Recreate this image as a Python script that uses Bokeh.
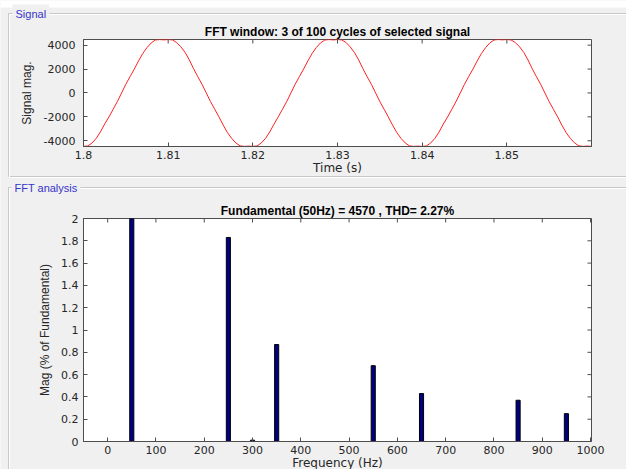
import math
from bokeh.plotting import figure
from bokeh.layouts import column
from bokeh.models import (Range1d, Label, FixedTicker, GridBox,
                          CustomJSTickFormatter, ColumnDataSource)
from bokeh.embed import file_html
from bokeh.resources import INLINE

# ---------------- data ----------------
signal_t0 = 1.7995
signal_dt = 0.0005
signal_values = [
    -4445, -4471, -4430, -4190, -3800, -3260, -2600, -2010, -1370, -720,
    0, 730, 1370, 2000, 2680, 3300, 3800, 4190, 4430, 4468,
    4440, 4470, 4435, 4220, 3860, 3390, 2760, 2030, 1360, 720,
    0, -720, -1360, -2000, -2690, -3310, -3800, -4180, -4425, -4468,
    -4447, -4470, -4432, -4185, -3795, -3255, -2610, -2005, -1365, -725,
    0, 728, 1368, 2003, 2682, 3296, 3805, 4188, 4428, 4466,
    4438, 4469, 4437, 4224, 3855, 3385, 2765, 2035, 1362, 722,
    2, -718, -1358, -2004, -2688, -3306, -3798, -4183, -4427, -4470,
    -4446, -4472, -4431, -4188, -3802, -3262, -2598, -2012, -1372, -718,
    1, 732, 1372, 1998, 2678, 3302, 3798, 4192, 4432, 4470,
    4442, 4471, 4433, 4218, 3862, 3392, 2758, 2028, 1358, 718,
    -2, -722, -1362, -1998, -2692, -3312, -3802, -4178, -4423, -4466,
    -4444, -4470, -4429,
]
signal_time = [signal_t0 + i * signal_dt for i in range(len(signal_values))]

fft_freq = [50, 250, 300, 350, 550, 650, 850, 950]
fft_mag = [100.0, 1.83, 0.012, 0.87, 0.68, 0.43, 0.37, 0.25]

time_ticks = [1.80, 1.81, 1.82, 1.83, 1.84, 1.85]
signal_ticks = [-4000, -2000, 0, 2000, 4000]
freq_ticks = [0, 100, 200, 300, 400, 500, 600, 700, 800, 900, 1000]
mag_ticks = [0, 0.2, 0.4, 0.6, 0.8, 1.0, 1.2, 1.4, 1.6, 1.8, 2.0]

title_signal = "FFT window: 3 of 100 cycles of selected signal"
title_fft = "Fundamental (50Hz) = 4570 , THD= 2.27%"
panel_signal = "Signal"
panel_fft = "FFT analysis"

# ---------------- style ----------------
W, H = 626, 469
BG = "#f0f0f0"
AX = "#4d4d4d"
TXT = "#262626"
PANEL_LINE = "#c8c8c8"
PANEL_TXT = "#3535c8"
TICK_FONT = "DejaVu Sans"
LABEL_FONT = "DejaVu Sans"
NARROW = "'Liberation Sans Narrow', 'Liberation Sans'"
TITLE_FONT = "Liberation Sans"

fmt_code = "return String(parseFloat(tick.toFixed(3)));"


def style_axes(p, xticks, yticks, xlabel, ylabel, ylab_standoff, ytick_standoff):
    p.xgrid.visible = False
    p.ygrid.visible = False
    p.outline_line_color = AX
    for ax, ticks in ((p.xaxis[0], xticks), (p.yaxis[0], yticks)):
        ax.ticker = FixedTicker(ticks=ticks)
        ax.formatter = CustomJSTickFormatter(code=fmt_code)
        ax.major_tick_in = 4
        ax.major_tick_out = 0
        ax.minor_tick_line_color = None
        ax.axis_line_color = AX
        ax.major_tick_line_color = AX
        ax.major_label_text_font = TICK_FONT
        ax.major_label_text_font_size = "11px"
        ax.major_label_text_color = TXT
        ax.axis_label_text_color = TXT
        ax.axis_label_text_font_style = "normal"
    p.xaxis[0].axis_label = xlabel
    p.xaxis[0].axis_label_text_font = LABEL_FONT
    p.xaxis[0].axis_label_text_font_size = "12px"
    p.xaxis[0].major_label_standoff = 4
    p.xaxis[0].axis_label_standoff = -1
    p.yaxis[0].axis_label = ylabel
    p.yaxis[0].axis_label_text_font = NARROW
    p.yaxis[0].axis_label_text_font_size = "12px"
    p.yaxis[0].major_label_standoff = ytick_standoff
    p.yaxis[0].axis_label_standoff = ylab_standoff
    # inward ticks on the top and right edges of the box
    xr, yr = p.x_range, p.y_range
    p.ray(x=[xr.end] * len(yticks), y=yticks, length=4, length_units="screen",
          angle=math.pi, line_color=AX, line_width=1)
    p.ray(x=xticks, y=[yr.end] * len(xticks), length=4, length_units="screen",
          angle=-math.pi / 2, line_color=AX, line_width=1)


def style_title(p, text):
    p.title.text = text
    p.title.align = "center"
    p.title.text_font = TITLE_FONT
    p.title.text_font_size = "12px"
    p.title.text_font_style = "bold"
    p.title.text_color = "#000000"
    try:
        p.title.standoff = 2
    except Exception:
        pass


def panel_label(x, y, text):
    lab = Label(x=x, y=y, text=text, text_font=TITLE_FONT,
                text_font_size="11px", text_color=PANEL_TXT,
                text_baseline="middle", background_fill_color=BG)
    try:
        lab.padding = 3
    except Exception:
        pass
    return lab


# ---------------- background (GUI panels) ----------------
bg = figure(width=W, height=H, x_range=Range1d(0, W), y_range=Range1d(H, 0),
            output_backend="svg", toolbar_location=None,
            x_axis_location=None, y_axis_location=None,
            min_border=0, background_fill_color=BG, border_fill_color=BG,
            outline_line_color=None)
bg.xgrid.visible = False
bg.ygrid.visible = False
bg.quad(left=[0], right=[W], top=[0], bottom=[7], fill_color="white", line_color=None)
# Signal group box
bg.multi_line(xs=[[W + 5, 8, 8, W + 5], [W + 5, 9, 9, W + 5]],
              ys=[[13, 13, 176, 176], [14, 14, 177, 177]],
              line_color=[PANEL_LINE, "white"], line_width=1)
# FFT analysis group box
bg.multi_line(xs=[[W + 5, 8, 8], [W + 5, 9, 9]],
              ys=[[187, 187, H + 5], [188, 188, H + 5]],
              line_color=[PANEL_LINE, "white"], line_width=1)
bg.add_layout(panel_label(12, 13, panel_signal))
bg.add_layout(panel_label(11, 187, panel_fft))

# ---------------- top figure: signal ----------------
p1 = figure(frame_width=508, frame_height=107,
            x_range=Range1d(1.8, 1.86), y_range=Range1d(-4478, 4472),
            output_backend="svg", toolbar_location=None,
            min_border_left=83, min_border_right=35,
            min_border_top=39, min_border_bottom=35,
            background_fill_color="white", border_fill_alpha=0)
style_title(p1, title_signal)
src1 = ColumnDataSource(dict(t=signal_time, v=signal_values))
p1.line("t", "v", source=src1, line_color="#ff2020", line_width=1)
style_axes(p1, time_ticks, signal_ticks, "Time (s)", "Signal mag.", 7, 8)

# ---------------- bottom figure: FFT ----------------
p2 = figure(frame_width=508, frame_height=223,
            x_range=Range1d(-50, 1002), y_range=Range1d(0, 2),
            output_backend="svg", toolbar_location=None,
            min_border_left=83, min_border_right=35,
            min_border_top=37, min_border_bottom=28,
            background_fill_color="white", border_fill_alpha=0)
style_title(p2, title_fft)
src2 = ColumnDataSource(dict(f=fft_freq, m=fft_mag))
p2.vbar(x="f", top="m", bottom=0, width=8.5, source=src2,
        fill_color="#000080", line_color="#000000", line_width=1)
style_axes(p2, freq_ticks, mag_ticks, "Frequency (Hz)", "Mag (% of Fundamental)", 6, 5)

plots = column(p1, p2, spacing=0)
layout = GridBox(children=[(bg, 0, 0), (plots, 0, 0)])
open("out.html", "w").write(file_html(layout, INLINE))
